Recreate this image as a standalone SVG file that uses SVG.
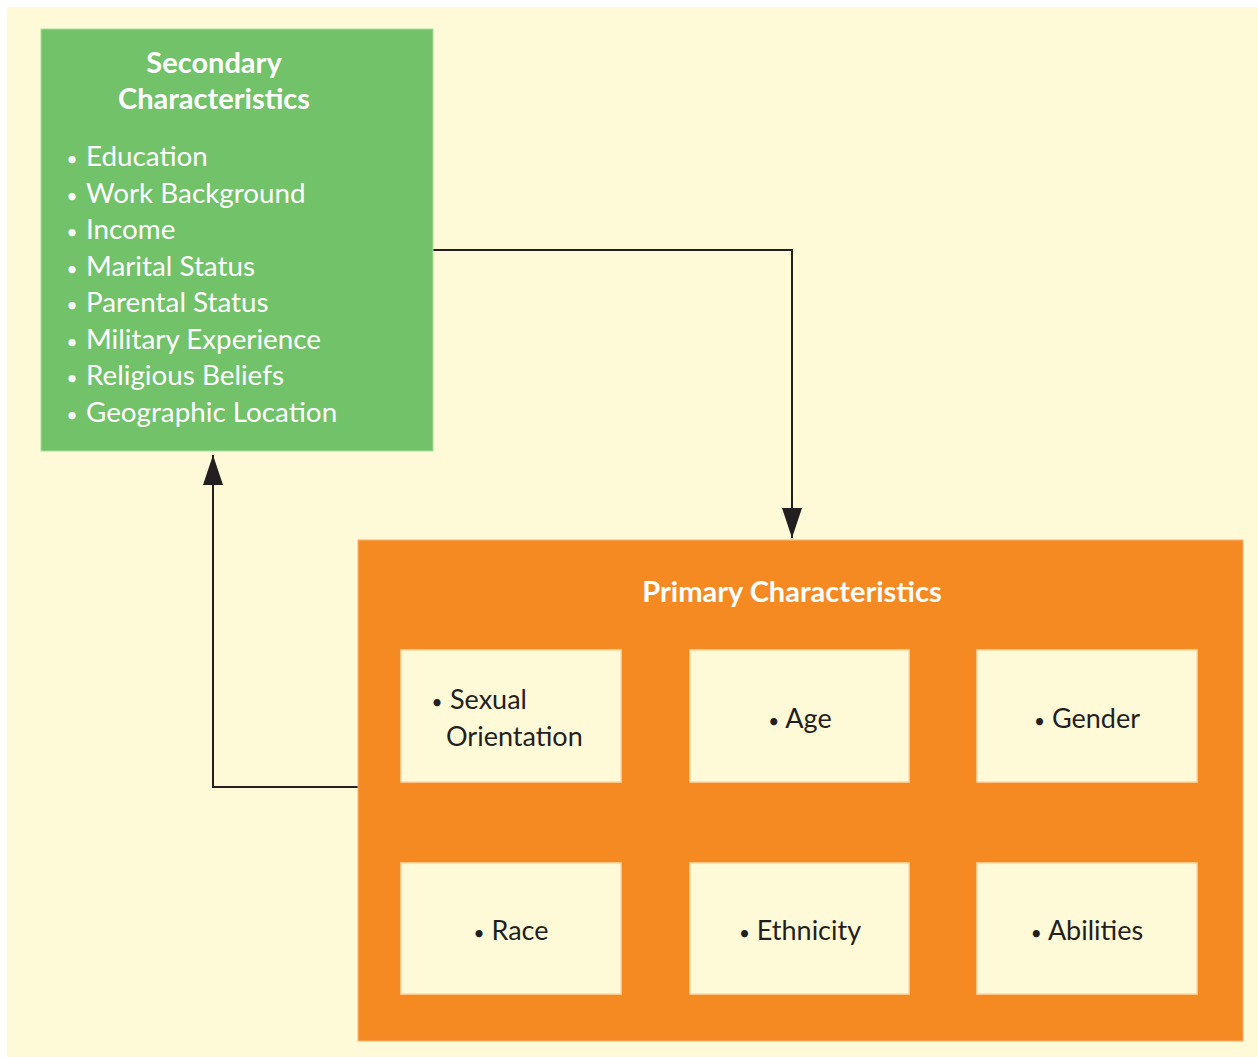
<svg xmlns="http://www.w3.org/2000/svg" width="1258" height="1057" viewBox="0 0 1258 1057">
  <style>
    .title { font-family: Lato, "Open Sans", sans-serif; font-weight: bold; font-size: 29px; fill: #ffffff; text-anchor: middle; }
    .item { font-family: Lato, "Open Sans", sans-serif; font-size: 27.8px; fill: #ffffff; }
    .cell { fill: #fefad8; stroke: #fbd9a8; stroke-width: 1.5; }
    .cell-text { font-family: Lato, "Open Sans", sans-serif; font-size: 27px; fill: #231f20; }
    .dot { font-size: 19px; }
    .wire { fill: none; stroke: #231f20; stroke-width: 2; }
  </style>
  <defs>
    <marker id="arrowDown" viewBox="0 0 20 30" refX="10" refY="30" markerWidth="20" markerHeight="30" markerUnits="userSpaceOnUse" orient="0">
      <path d="M0,0 L20,0 L10,30 Z" fill="#231f20"/>
    </marker>
    <marker id="arrowUp" viewBox="0 0 20 30" refX="10" refY="0" markerWidth="20" markerHeight="30" markerUnits="userSpaceOnUse" orient="0">
      <path d="M10,0 L20,30 L0,30 Z" fill="#231f20"/>
    </marker>
  </defs>

  <!-- page background -->
  <rect x="0" y="0" width="1258" height="1057" fill="#ffffff"/>
  <rect x="7" y="7" width="1251" height="1050" fill="#fefad8"/>

  <!-- connectors -->
  <g id="connectors">
    <path class="wire" d="M433,250 H792 V538" marker-end="url(#arrowDown)"/>
    <path class="wire" d="M358,787 H213 V455" marker-end="url(#arrowUp)"/>
  </g>

  <!-- secondary characteristics -->
  <g id="secondary">
    <rect x="41" y="29" width="392" height="422" fill="#72c26a" stroke="#a6dd9c" stroke-width="1"/>
    <text class="title" x="214" y="73">Secondary</text>
    <text class="title" x="214" y="109">Characteristics</text>
    <g class="item">
      <text y="166"><tspan class="dot" x="72" text-anchor="middle">•</tspan><tspan x="86">Education</tspan></text>
      <text y="203"><tspan class="dot" x="72" text-anchor="middle">•</tspan><tspan x="86">Work Background</tspan></text>
      <text y="239"><tspan class="dot" x="72" text-anchor="middle">•</tspan><tspan x="86">Income</tspan></text>
      <text y="276"><tspan class="dot" x="72" text-anchor="middle">•</tspan><tspan x="86">Marital Status</tspan></text>
      <text y="312"><tspan class="dot" x="72" text-anchor="middle">•</tspan><tspan x="86">Parental Status</tspan></text>
      <text y="349"><tspan class="dot" x="72" text-anchor="middle">•</tspan><tspan x="86">Military Experience</tspan></text>
      <text y="385"><tspan class="dot" x="72" text-anchor="middle">•</tspan><tspan x="86">Religious Beliefs</tspan></text>
      <text y="422"><tspan class="dot" x="72" text-anchor="middle">•</tspan><tspan x="86">Geographic Location</tspan></text>
    </g>
  </g>

  <!-- primary characteristics -->
  <g id="primary">
    <rect x="358" y="540" width="885" height="501" fill="#f58a23" stroke="#f9b070" stroke-width="1"/>
    <text class="title" x="792" y="602">Primary Characteristics</text>

    <g id="cell-sexual-orientation">
      <rect class="cell" x="401" y="650" width="220" height="132"/>
      <text class="cell-text" y="709"><tspan class="dot" x="437" text-anchor="middle">•</tspan><tspan x="450">Sexual</tspan></text>
      <text class="cell-text" x="446" y="746">Orientation</text>
    </g>
    <g id="cell-age">
      <rect class="cell" x="690" y="650" width="219" height="132"/>
      <text class="cell-text" x="800" y="728" text-anchor="middle"><tspan class="dot">•</tspan> Age</text>
    </g>
    <g id="cell-gender">
      <rect class="cell" x="977" y="650" width="220" height="132"/>
      <text class="cell-text" x="1087" y="728" text-anchor="middle"><tspan class="dot">•</tspan> Gender</text>
    </g>
    <g id="cell-race">
      <rect class="cell" x="401" y="863" width="220" height="131"/>
      <text class="cell-text" x="511" y="940" text-anchor="middle"><tspan class="dot">•</tspan> Race</text>
    </g>
    <g id="cell-ethnicity">
      <rect class="cell" x="690" y="863" width="219" height="131"/>
      <text class="cell-text" x="800" y="940" text-anchor="middle"><tspan class="dot">•</tspan> Ethnicity</text>
    </g>
    <g id="cell-abilities">
      <rect class="cell" x="977" y="863" width="220" height="131"/>
      <text class="cell-text" x="1087" y="940" text-anchor="middle"><tspan class="dot">•</tspan> Abilities</text>
    </g>
  </g>
</svg>
